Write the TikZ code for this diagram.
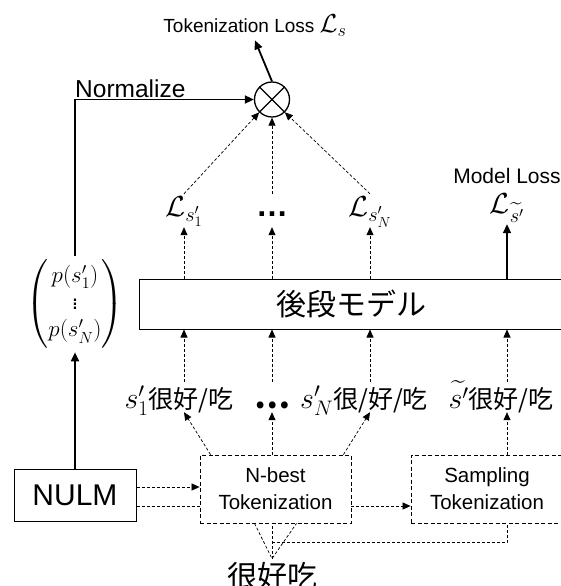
\RequirePackage{fix-cm}
\documentclass[tikz,border=0pt]{standalone}
\usepackage{amsmath}
\usepackage[no-math]{fontspec}
\setmainfont{Liberation Sans}
\newfontfamily\jpfont{Noto Sans CJK JP}
\usetikzlibrary{arrows.meta}
\newcommand\bigmath[2][30]{{\fontsize{#1}{#1}\selectfont$#2$}}

\begin{document}
\begin{tikzpicture}[x=1pt,y=-1pt,
  box/.style={draw, line width=1pt, inner sep=0pt},
  dbox/.style={draw, line width=0.8pt, dash pattern=on 4pt off 2.5pt, inner sep=0pt, align=center, font=\fontsize{20.5}{27}\selectfont},
  dline/.style={line width=0.7pt, dash pattern=on 3pt off 2pt},
  darrow/.style={dline, -{Triangle[length=8pt,width=7pt]}},
  tarrow/.style={line width=1.8pt, -{Triangle[length=9pt,width=8pt]}},
  toplbl/.style={anchor=base, inner sep=2pt, text height=20pt, text depth=9pt, font=\fontsize{29}{32}\selectfont},
  botlbl/.style={anchor=base, inner sep=2pt, text height=24pt, text depth=2pt, font=\fontsize{25}{30}\selectfont\jpfont}]
\useasboundingbox (0,0) rectangle (561,586);
\clip (0,0) rectangle (561,586);

% losses of the tokenizations
\node[toplbl] (l1) at (184,216) {$\mathcal{L}_{s'_1}$};
\node[toplbl] (ld) at (272,216) {\textbf{\fontsize{32}{32}\selectfont …}};
\node[toplbl] (lN) at (370,216) {$\mathcal{L}_{s'_N}$};
\node[toplbl, text height=14pt] (lt) at (507,213) {$\mathcal{L}_{\widetilde{s'}}$};
\node[font=\fontsize{21}{24}\selectfont, inner sep=1pt] (mloss) at (507,176) {Model Loss};

% downstream model
\node[box, minimum width=424pt, minimum height=50pt, font=\fontsize{30}{34}\selectfont\jpfont] (model) at (351,304) {後段モデル};

% tokenized inputs
\node[botlbl] (b1) at (179,408) {\bigmath{s'_1}很好/吃};
\node[botlbl] (bd) at (272,408) {\textbf{\fontsize{32}{32}\selectfont …}};
\node[botlbl] (bN) at (364,408) {\bigmath{s'_N}很/好/吃};
\node[botlbl] (bt) at (501,408) {\bigmath{\widetilde{s'}}很好/吃};

% tokenizers
\node[box, minimum width=122pt, minimum height=52pt, font=\fontsize{30}{34}\selectfont] (nulm) at (75,495) {NULM};
\node[dbox, minimum width=151pt, minimum height=68pt] (nbest) at (275.5,489) {N-best\\Tokenization};
\node[dbox, minimum width=152pt, minimum height=68pt] (samp) at (487,489) {Sampling\\Tokenization};

% raw sentence
\node[font=\fontsize{30}{34}\selectfont\jpfont] (src) at (272,576) {很好吃};

% probabilities and product
\node[font=\fontsize{23}{27}\selectfont] (pvec) at (75,304) {$\begin{pmatrix}p(s'_1)\\ \vdots\\ p(s'_N)\end{pmatrix}$};
\node[circle, draw, line width=1.3pt, minimum size=35pt, inner sep=0pt] (mult) at (272,99.5) {};
\draw[line width=1.3pt] (mult.north west) -- (mult.south east) (mult.north east) -- (mult.south west);
\node[font=\fontsize{19}{22}\selectfont] (tloss) at (255,26) {Tokenization Loss \bigmath[26]{\mathcal{L}_s}};
\node[anchor=base west, inner sep=0pt, font=\fontsize{24.5}{28}\selectfont] (norm) at (75,97) {Normalize};

% solid connectors
\draw[tarrow] (mult.north) -- (tloss.south);
\draw[tarrow] (pvec.north) |- (mult.west);
\draw[tarrow] (nulm.north) -- (pvec.south);
\draw[tarrow] (lt |- model.north) -- (lt.south);

% losses into the product
\draw[darrow] (l1.north) -- (mult.south west);
\draw[darrow] (ld.north) -- (mult.south);
\draw[darrow] (lN.north) -- (mult.south east);

% through the model
\draw[darrow] (l1 |- model.north) -- (l1.south);
\draw[darrow] (ld |- model.north) -- (ld.south);
\draw[darrow] (lN |- model.north) -- (lN.south);
\draw[darrow] (b1.north -| l1) -- (l1 |- model.south);
\draw[darrow] (bd.north -| ld) -- (ld |- model.south);
\draw[darrow] (bN.north -| lN) -- (lN |- model.south);
\draw[darrow] (bt.north -| lt) -- (lt |- model.south);

% tokenizer outputs
\draw[darrow] ([xshift=11pt]nbest.north west) -- (l1 |- b1.south);
\draw[darrow] (ld |- nbest.north) -- (ld |- bd.south);
\draw[darrow] ([xshift=-8pt]nbest.north east) -- (lN |- bN.south);
\draw[darrow] (lt |- samp.north) -- (lt |- bt.south);

% NULM to tokenizers
\draw[darrow] ([yshift=8pt]nulm.east) -- ([yshift=8pt]nulm.east -| nbest.west);
\draw[dline] ([yshift=-11pt]nulm.east) -- ([yshift=-11pt]nulm.east -| nbest.west);
\draw[darrow] ([yshift=-11pt]nulm.east -| nbest.east) -- ([yshift=-11pt]nulm.east -| samp.west);

% sentence into tokenizers
\draw[dline] ([xshift=-21pt]nbest.south) -- (src.north) -- ([xshift=21pt]nbest.south);
\draw[dline] (src.north) -- (src.north |- nbest.south);
\draw[dline] ([yshift=16pt]src.north) -| (lt |- samp.south);
\end{tikzpicture}
\end{document}
